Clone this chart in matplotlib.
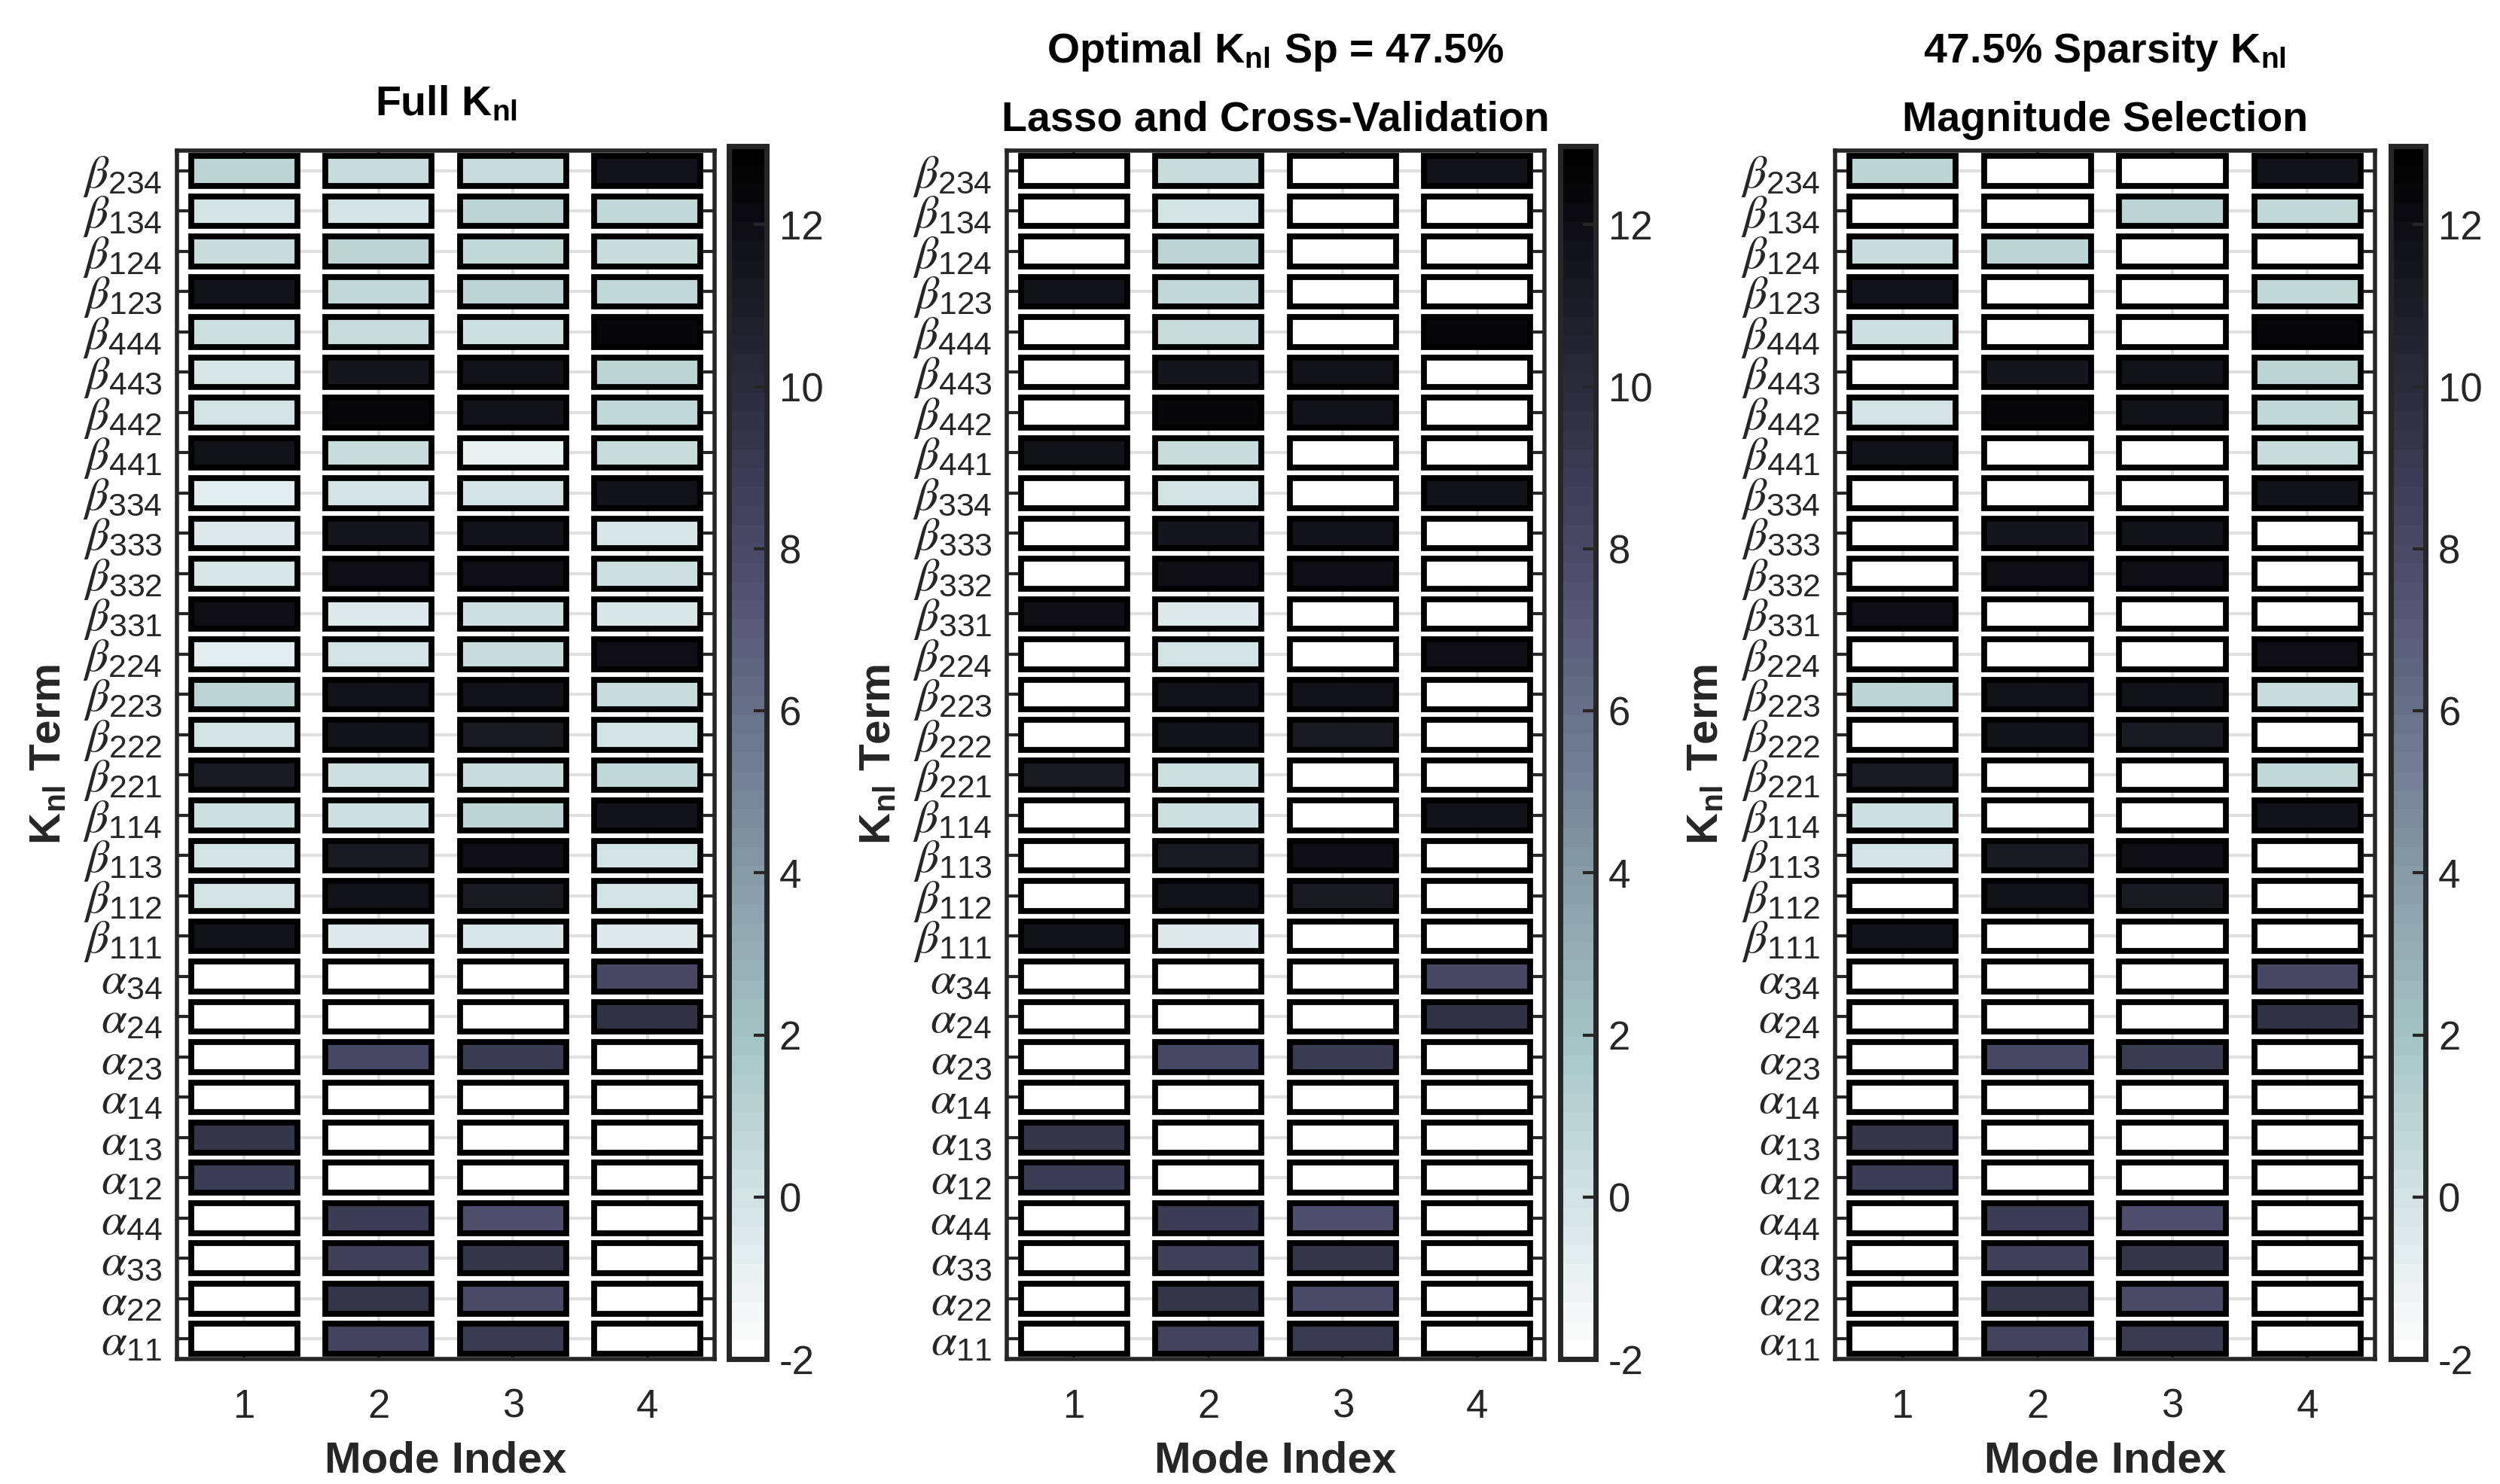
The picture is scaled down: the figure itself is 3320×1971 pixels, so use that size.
import numpy as np
import matplotlib
matplotlib.use("Agg")
import matplotlib.pyplot as plt
from matplotlib.colors import Normalize
from matplotlib.cm import ScalarMappable

plt.rcParams['font.family'] = ['Liberation Sans', 'DejaVu Sans']
plt.rcParams['mathtext.fontset'] = 'custom'
plt.rcParams['mathtext.rm'] = 'Liberation Sans'
plt.rcParams['mathtext.it'] = 'STIXGeneral:italic'
plt.rcParams['mathtext.bf'] = 'Liberation Sans:bold'
plt.rcParams['axes.unicode_minus'] = False

# row labels, top to bottom
terms = [r'$\beta_{234}$', r'$\beta_{134}$', r'$\beta_{124}$', r'$\beta_{123}$',
         r'$\beta_{444}$', r'$\beta_{443}$', r'$\beta_{442}$', r'$\beta_{441}$',
         r'$\beta_{334}$', r'$\beta_{333}$', r'$\beta_{332}$', r'$\beta_{331}$',
         r'$\beta_{224}$', r'$\beta_{223}$', r'$\beta_{222}$', r'$\beta_{221}$',
         r'$\beta_{114}$', r'$\beta_{113}$', r'$\beta_{112}$', r'$\beta_{111}$',
         r'$\alpha_{34}$', r'$\alpha_{24}$', r'$\alpha_{23}$', r'$\alpha_{14}$',
         r'$\alpha_{13}$', r'$\alpha_{12}$', r'$\alpha_{44}$', r'$\alpha_{33}$',
         r'$\alpha_{22}$', r'$\alpha_{11}$']
modes = [1, 2, 3, 4]

# full K_nl (colour value), one row per term, columns = modes
k_full = [
    [0.85, 0.55, 0.55, 11.8],
    [0.05, 0.1, 0.9, 0.6],
    [0.45, 0.9, 0.6, 0.35],
    [11.8, 0.6, 0.85, 0.8],
    [0.3, 0.45, 0.3, 12.3],
    [-0.2, 11.4, 11.8, 0.85],
    [0.1, 12.3, 11.8, 0.65],
    [11.8, 0.4, -0.9, 0.45],
    [-0.6, 0.1, 0.1, 11.8],
    [-0.4, 11.5, 11.8, -0.3],
    [-0.3, 12.0, 12.0, 0.15],
    [12.0, -0.4, 0.3, -0.2],
    [-0.6, -0.1, 0.4, 12.0],
    [0.85, 11.7, 11.7, 0.55],
    [0.05, 11.8, 11.2, 0.05],
    [11.3, 0.3, 0.55, 0.6],
    [0.3, 0.3, 0.9, 11.8],
    [0.0, 11.3, 12.0, -0.1],
    [-0.1, 11.8, 11.2, -0.1],
    [11.6, -0.4, -0.2, -0.4],
    [-2, -2, -2, 8.2],
    [-2, -2, -2, 9.5],
    [-2, 8.2, 9.1, -2],
    [-2, -2, -2, -2],
    [9.3, -2, -2, -2],
    [8.8, -2, -2, -2],
    [-2, 8.8, 7.7, -2],
    [-2, 8.6, 9.4, -2],
    [-2, 9.35, 8.0, -2],
    [-2, 8.45, 9.1, -2],
]

# terms kept by lasso + cross-validation (1 = kept)
keep_lasso = [
    [0, 1, 0, 1], [0, 1, 0, 0], [0, 1, 0, 0], [1, 1, 0, 0], [0, 1, 0, 1],
    [0, 1, 1, 0], [0, 1, 1, 0], [1, 1, 0, 0], [0, 1, 0, 1], [0, 1, 1, 0],
    [0, 1, 1, 0], [1, 1, 0, 0], [0, 1, 0, 1], [0, 1, 1, 0], [0, 1, 1, 0],
    [1, 1, 0, 0], [0, 1, 0, 1], [0, 1, 1, 0], [0, 1, 1, 0], [1, 1, 0, 0],
    [1, 1, 1, 1], [1, 1, 1, 1], [1, 1, 1, 1], [1, 1, 1, 1], [1, 1, 1, 1],
    [1, 1, 1, 1], [1, 1, 1, 1], [1, 1, 1, 1], [1, 1, 1, 1], [1, 1, 1, 1],
]

# terms kept by magnitude selection
keep_mag = [
    [1, 0, 0, 1], [0, 0, 1, 1], [1, 1, 0, 0], [1, 0, 0, 1], [1, 0, 0, 1],
    [0, 1, 1, 1], [1, 1, 1, 1], [1, 0, 0, 1], [0, 0, 0, 1], [0, 1, 1, 0],
    [0, 1, 1, 0], [1, 0, 0, 0], [0, 0, 0, 1], [1, 1, 1, 1], [0, 1, 1, 0],
    [1, 0, 0, 1], [1, 0, 0, 1], [1, 1, 1, 0], [0, 1, 1, 0], [1, 0, 0, 0],
    [1, 1, 1, 1], [1, 1, 1, 1], [1, 1, 1, 1], [1, 1, 1, 1], [1, 1, 1, 1],
    [1, 1, 1, 1], [1, 1, 1, 1], [1, 1, 1, 1], [1, 1, 1, 1], [1, 1, 1, 1],
]

vmin, vmax = -2, 12.97
cmap = matplotlib.colormaps['bone_r'].resampled(64)
norm = Normalize(vmin, vmax)
dark = '#262626'

fig = plt.figure(figsize=(16.6, 9.855), dpi=200)

ax_pos = [[0.0708, 0.0842, 0.2151, 0.8143],
          [0.4027, 0.0842, 0.2151, 0.8143],
          [0.7340, 0.0842, 0.2160, 0.8143]]
cb_pos = [[0.2916, 0.0842, 0.0150, 0.8174],
          [0.6241, 0.0842, 0.0142, 0.8174],
          [0.9563, 0.0842, 0.0140, 0.8174]]

full = np.array(k_full)
panels = [full,
          np.where(np.array(keep_lasso) == 1, full, vmin),
          np.where(np.array(keep_mag) == 1, full, vmin)]
titles = [[r'Full K$_{\mathbf{nl}}$'],
          [r'Optimal K$_{\mathbf{nl}}$ Sp = 47.5%', 'Lasso and Cross-Validation'],
          [r'47.5% Sparsity K$_{\mathbf{nl}}$', 'Magnitude Selection']]

n = len(terms)
ypos = np.arange(n, 0, -1)

for p in range(3):
    ax = fig.add_axes(ax_pos[p])
    cax = fig.add_axes(cb_pos[p])
    vals = panels[p]

    for j, m in enumerate(modes):
        ax.barh(ypos, 0.79, left=m - 0.395, height=0.74,
                color=cmap(norm(vals[:, j])), edgecolor='black', linewidth=2.8)

    ax.set_xlim(0.5, 4.5)
    ax.set_ylim(0.5, n + 0.5)
    ax.set_xticks(modes)
    ax.set_yticks(ypos)
    ax.set_yticklabels(terms)
    ax.set_axisbelow(True)
    ax.grid(True, color='#dfdfdf', linewidth=1.5)
    ax.tick_params(axis='y', direction='in', length=5.5, width=1.5, color=dark,
                   left=True, right=True, labelsize=22, labelcolor=dark, pad=7)
    ax.tick_params(axis='x', direction='in', length=5.5, width=1.5, color=dark,
                   top=True, labelsize=19, labelcolor=dark, pad=14)
    for s in ax.spines.values():
        s.set_linewidth(2)
        s.set_color(dark)

    ax.set_xlabel('Mode Index', fontsize=21, fontweight='bold', color=dark, labelpad=7)
    ax.set_ylabel(r'K$_{\mathbf{nl}}$ Term', fontsize=21, fontweight='bold', color=dark)
    ax.yaxis.set_label_coords(-0.2, 0.5)

    if len(titles[p]) == 1:
        offs = [16.6]
    else:
        offs = [42, 9.5]
    for t, o in zip(titles[p], offs):
        ax.annotate(t, xy=(0.5, 1), xycoords='axes fraction', xytext=(0, o),
                    textcoords='offset points', ha='center', va='baseline',
                    fontsize=20, fontweight='bold')

    cb = fig.colorbar(ScalarMappable(norm=norm, cmap=cmap), cax=cax)
    cb.set_ticks([-2, 0, 2, 4, 6, 8, 10, 12])
    cb.ax.tick_params(direction='in', length=6, width=1.5, color=dark,
                      labelsize=19, labelcolor=dark, pad=6)
    cb.outline.set_linewidth(2.5)
    cb.outline.set_edgecolor(dark)

fig.savefig('out.png', dpi=200)
